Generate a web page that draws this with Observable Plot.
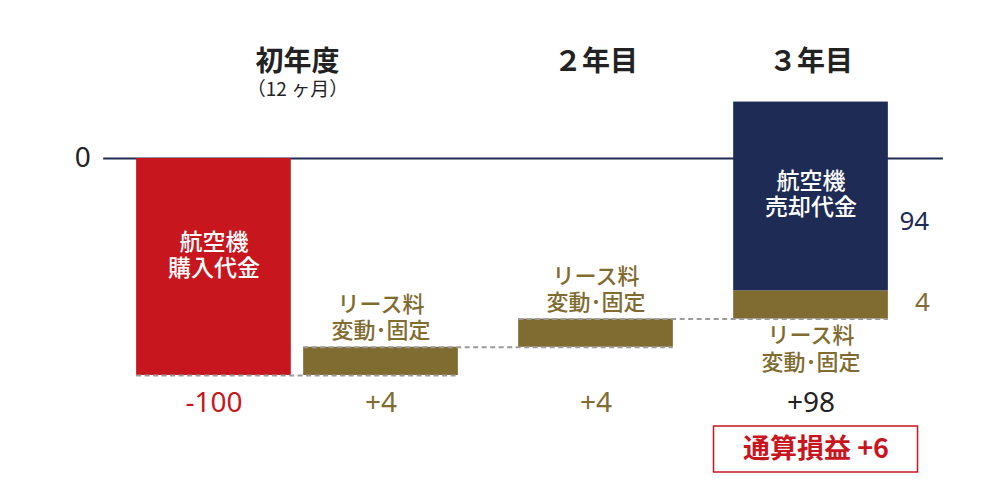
<!DOCTYPE html>
<html>
<head>
<meta charset="utf-8">
<script src="https://cdn.jsdelivr.net/npm/d3@7"></script>
<script src="https://cdn.jsdelivr.net/npm/@observablehq/plot@0.6"></script>
<style>
  html, body { margin: 0; padding: 0; background: #fff; }
  #chart { width: 1000px; height: 500px; }
</style>
</head>
<body>
<div id="chart"></div>
<script>
// ---- data ----
const years = ["初年度", "２年目", "３年目"];
const yearNotes = ["（12 ヶ月）", "", ""];
const colYear = [0, 0, 1, 2];                 // which year each column belongs to
const colValueLabels = ["-100", "+4", "+4", "+98"];
const segColumn = [0, 1, 2, 3, 3];
const segKind = ["purchase", "lease", "lease", "lease", "sale"];
const segDrawn = [-100, 13, 13, 13, 87];       // drawn heights (schematic)
const segText = ["航空機\n購入代金", "リース料\n変動･固定", "リース料\n変動･固定", "リース料\n変動･固定", "航空機\n売却代金"];
const sideLabels = ["", "", "", "4", "94"];
const totalLabel = "通算損益 +6";

// ---- styles ----
const colors = { purchase: "#c8161f", lease: "#806b30", sale: "#1d2b55" };
const dark = "#222222";
const font = "'Noto Sans CJK JP', 'Noto Sans', sans-serif";
const numFont = "'Noto Sans', 'Noto Sans CJK JP', sans-serif";

// column x positions (bar width = 1 unit)
const colX1 = [];
for (let i = 0; i < colYear.length; i++) {
  if (i === 0) colX1.push(0);
  else colX1.push(colX1[i - 1] + 1 + (colYear[i] === colYear[i - 1] ? 0.08 : 0.39));
}
const colX2 = colX1.map(v => v + 1);

// segments with cumulative levels
let level = 0;
const segs = segDrawn.map((d, i) => {
  const y1 = level; level += d;
  const c = segColumn[i];
  return { i, kind: segKind[i], col: c, x1: colX1[c], x2: colX2[c], y1, y2: level,
           text: segText[i], side: sideLabels[i] };
});

// connector levels (end of each column except last)
const colEnd = colX1.map((_, c) => segs.filter(s => s.col === c).slice(-1)[0].y2);
const connectors = colEnd.slice(0, -1).map((lv, c) => ({ x1: colX1[c], x2: colX2[c + 1], y: lv }));

const yearInfo = years.map((name, yi) => {
  const cols = colYear.map((y, c) => y === yi ? c : -1).filter(c => c >= 0);
  return { name, note: yearNotes[yi], x: (colX1[cols[0]] + colX2[cols[cols.length - 1]]) / 2 };
});
const colInfo = colValueLabels.map((lab, c) => ({ lab, x: (colX1[c] + colX2[c]) / 2, c }));
const valueColors = [colors.purchase, colors.lease, colors.lease, dark];

const lastCol = colX1.length - 1;
const lastCenter = (colX1[lastCol] + colX2[lastCol]) / 2;

const chart = Plot.plot({
  width: 1000,
  height: 500,
  margin: 0,
  style: { fontFamily: font, background: "#fff" },
  x: { domain: [-0.88, 5.585], range: [0, 1000], axis: null },
  y: { domain: [-157.6, 72.8], range: [500, 0], axis: null },
  marks: [
    // zero line
    Plot.ruleY([0], { x1: colX1[0] - 0.213, x2: colX2[lastCol] + 0.356, stroke: colors.sale, strokeWidth: 2 }),
    Plot.text([0], { x: colX1[0] - 0.213, y: 0, text: d => String(d), textAnchor: "end", dx: -13,
      fontSize: 28, fill: dark, fontFamily: numFont }),
    // bars
    Plot.rect(segs, { x1: "x1", x2: "x2", y1: "y1", y2: "y2", fill: d => colors[d.kind] }),
    // connectors
    Plot.ruleY(connectors, { x1: "x1", x2: "x2", y: "y", stroke: "#9b9b9b", strokeWidth: 2, strokeDasharray: "5,3.5" }),
    // inner labels (white)
    Plot.text(segs.filter(s => s.kind === "purchase"), {
      x: d => (d.x1 + d.x2) / 2, y: d => (d.y1 + d.y2) / 2, text: "text",
      fill: "#fff", fontSize: 23, fontWeight: 500, lineHeight: 1.12, dy: -12
    }),
    Plot.text(segs.filter(s => s.kind === "sale"), {
      x: d => (d.x1 + d.x2) / 2, y: d => (d.y1 + d.y2) / 2, text: "text",
      fill: "#fff", fontSize: 23, fontWeight: 500, lineHeight: 1.12, dy: -3
    }),
    // lease labels above bars (columns 1,2)
    Plot.text(segs.filter(s => s.kind === "lease" && s.col < lastCol), {
      x: d => (d.x1 + d.x2) / 2, y: "y2", text: "text", lineAnchor: "bottom",
      fill: colors.lease, fontSize: 22, fontWeight: 500, lineHeight: 1.2, dy: -9
    }),
    // lease label below last column
    Plot.text(segs.filter(s => s.kind === "lease" && s.col === lastCol), {
      x: d => (d.x1 + d.x2) / 2, y: "y1", text: "text", lineAnchor: "top",
      fill: colors.lease, fontSize: 22, fontWeight: 500, lineHeight: 1.25, dy: 4
    }),
    // side labels
    Plot.text(segs.filter(s => s.kind === "sale"), {
      x: "x2", y: d => (d.y1 + d.y2) / 2, text: "side", textAnchor: "middle",
      dx: 26, dy: 25, fill: colors.sale, fontSize: 26, fontFamily: numFont
    }),
    Plot.text(segs.filter(s => s.side && s.kind === "lease"), {
      x: "x2", y: d => (d.y1 + d.y2) / 2, text: "side", textAnchor: "middle",
      dx: 34, dy: -2, fill: colors.lease, fontSize: 26, fontFamily: numFont
    }),
    // year headers
    Plot.text(yearInfo, { x: "x", text: "name", frameAnchor: "top", lineAnchor: "middle", dy: 62,
      fontSize: 28, fontWeight: 700, fill: dark }),
    Plot.text(yearInfo.filter(d => d.note), { x: "x", text: "note", frameAnchor: "top", lineAnchor: "middle", dy: 89,
      fontSize: 19, fill: dark }),
    // value labels
    Plot.text(colInfo, { x: "x", text: "lab", frameAnchor: "top", lineAnchor: "middle", dy: 403, fontSize: 28,
      fill: d => valueColors[d.c], fontFamily: numFont }),
    // total box
    (index, scales) => {
      const cx = scales.x(lastCenter) + 5;
      const g = d3.create("svg:g");
      g.append("rect").attr("x", cx - 102).attr("y", 426).attr("width", 204).attr("height", 46)
        .attr("fill", "#fff").attr("stroke", colors.purchase).attr("stroke-width", 1.5);
      return g.node();
    },
    Plot.text([totalLabel], { x: lastCenter, text: d => d, frameAnchor: "top", lineAnchor: "middle", dy: 449, dx: 5,
      fontSize: 27, fontWeight: 700, fill: colors.purchase })
  ]
});
document.getElementById("chart").appendChild(chart);
</script>
</body>
</html>
